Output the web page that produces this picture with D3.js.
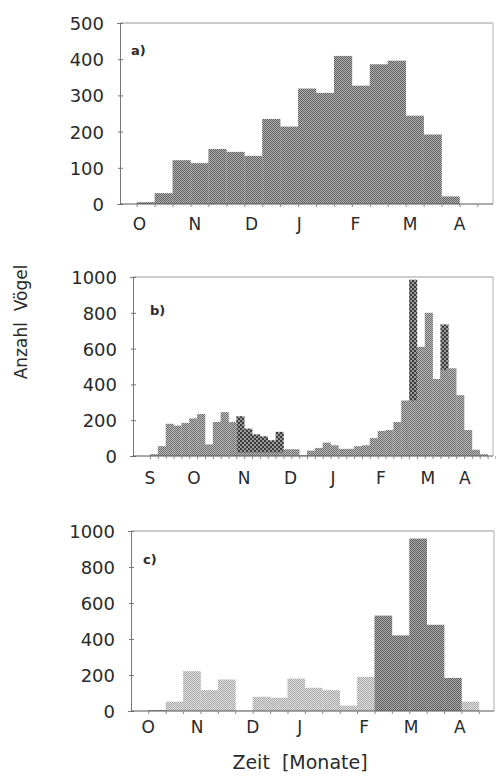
<!DOCTYPE html>
<html>
<head>
<meta charset="utf-8">
<script src="https://cdn.jsdelivr.net/npm/d3@7"></script>
<style>
html,body{margin:0;padding:0;background:#fff;}
svg{display:block;}
text{font-family:"DejaVu Sans",sans-serif;fill:#2a2a2a;white-space:pre;}
</style>
</head>
<body>
<svg id="chart" width="496" height="778"></svg>
<script>
// ---------- data ----------
// Panel a: dekads (10-day bins) from early October to mid April
const aMonths = ["O","N","D","J","F","M","A"];
const aMonthPos = [0.15, 3.25, 6.4, 9.07, 12.2, 15.25, 18.0];
const aValues = [5,30,121,113,152,144,133,235,214,319,307,409,327,386,396,244,192,21];

// Panel b: pentads (5-day bins) from September to April
const bMonths = ["S","O","N","D","J","F","M","A"];
const bMonthPos = [0, 5.6, 12.0, 17.9, 23.3, 29.4, 35.4, 40.1];
const bMain = [10,55,180,170,185,210,235,65,190,245,190,20,20,20,20,20,20,38,38,5,30,45,75,60,40,40,55,60,100,140,145,190,310,310,610,800,430,480,490,340,145,35,10];
const bDark = [0,0,0,0,0,0,0,0,0,0,0,222,153,121,110,88,135,0,0,0,0,0,0,0,0,0,0,0,0,0,0,0,0,985,0,0,0,735,0,0,0,0,0];

// Panel c: dekads from October to mid April, two series
const cMonths = ["O","N","D","J","F","M","A"];
const cMonthPos = [0, 2.8, 6.0, 8.7, 12.4, 15.1, 17.9];
const cLight = [0,52,221,116,175,3,79,74,180,129,116,30,190,0,0,0,0,0,52];
const cDark  = [5,0,0,0,0,0,0,0,0,0,0,0,0,530,420,958,479,184,0];

const aTicks = [0,100,200,300,400,500];
const bcTicks = [0,200,400,600,800,1000];

// ---------- drawing ----------
const svg = d3.select("#chart");
const defs = svg.append("defs");

function checker(id, bg, fg, size) {
  const p = defs.append("pattern").attr("id", id).attr("patternUnits","userSpaceOnUse")
    .attr("width", size*2).attr("height", size*2);
  p.append("rect").attr("width", size*2).attr("height", size*2).attr("fill", bg);
  p.append("rect").attr("width", size).attr("height", size).attr("fill", fg);
  p.append("rect").attr("x", size).attr("y", size).attr("width", size).attr("height", size).attr("fill", fg);
}
checker("patA", "#b4b4b4", "#5e5e5e", 1);
checker("patBmid", "#bcbcbc", "#6c6c6c", 1);
checker("patBdark", "#9a9a9a", "#3a3a3a", 2);
checker("patClight", "#e2e2e2", "#a6a6a6", 1);
checker("patCdark", "#b0b0b0", "#5a5a5a", 1);

const panels = [
  {frame:{l:120,r:493,t:23,b:204}, xDom:[-0.931,19.87], yMax:500, ticks:aTicks,
   months:aMonths, monthPos:aMonthPos, nBins:19, label:"a)", labelPos:[131,55], monthY:230,
   series:[{vals:aValues, fill:"url(#patA)"}]},
  {frame:{l:133,r:493,t:277,b:456}, xDom:[-2.166,43.69], yMax:1000, ticks:bcTicks,
   months:bMonths, monthPos:bMonthPos, nBins:44, label:"b)", labelPos:[150,315], monthY:484,
   series:[{vals:bDark, fill:"url(#patBdark)"},{vals:bMain, fill:"url(#patBmid)"}]},
  {frame:{l:131,r:494,t:531,b:711}, xDom:[-0.994,19.87], yMax:1000, ticks:bcTicks,
   months:cMonths, monthPos:cMonthPos, nBins:20, label:"c)", labelPos:[143,564], monthY:733,
   series:[{vals:cLight, fill:"url(#patClight)"},{vals:cDark, fill:"url(#patCdark)"}]}
];

panels.forEach(P => {
  const f = P.frame;
  const x = d3.scaleLinear().domain(P.xDom).range([f.l, f.r]);
  const y = d3.scaleLinear().domain([0, P.yMax]).range([f.b, f.t]);
  const g = svg.append("g");

  // bars
  P.series.forEach(s => {
    g.append("g").selectAll("rect").data(s.vals.map((v,i)=>({v,i})).filter(d=>d.v>0))
      .join("rect")
      .attr("x", d => x(d.i))
      .attr("width", d => x(d.i+1) - x(d.i) + 0.3)
      .attr("y", d => y(d.v))
      .attr("height", d => y(0) - y(d.v))
      .attr("fill", s.fill);
  });

  // frame (top/right light)
  g.append("line").attr("x1",f.l).attr("x2",f.r).attr("y1",f.t).attr("y2",f.t).attr("stroke","#9a9a9a").attr("stroke-width",1);
  g.append("line").attr("x1",f.r).attr("x2",f.r).attr("y1",f.t).attr("y2",f.b).attr("stroke","#b0b0b0").attr("stroke-width",1);

  // y axis
  const ya = d3.axisLeft(y).tickValues(P.ticks).tickSize(3).tickPadding(13).tickFormat(d3.format("d"));
  const yg = g.append("g").attr("transform", `translate(${f.l},0)`).call(ya);
  yg.select(".domain").attr("stroke","#777");
  yg.selectAll(".tick line").attr("stroke","#777").attr("x2",3).attr("x1",-2);
  yg.selectAll("text").attr("font-size",18).attr("font-family","DejaVu Sans").attr("fill","#2a2a2a").attr("dy","0.36em");

  // x axis: baseline with bin ticks
  const binTicks = d3.range(0, P.nBins+1);
  const xa = d3.axisBottom(x).tickValues(binTicks).tickSize(3).tickFormat("");
  const xg = g.append("g").attr("transform", `translate(0,${f.b})`).call(xa);
  xg.select(".domain").attr("stroke","#555").attr("d", `M${f.l},0H${f.r}`);
  xg.selectAll(".tick line").attr("stroke","#888");

  // month labels
  g.append("g").selectAll("text").data(P.months).join("text")
    .attr("x", (d,i) => x(P.monthPos[i]))
    .attr("y", P.monthY)
    .attr("text-anchor","middle")
    .attr("font-size",17)
    .text(d => d);

  // panel label
  g.append("text").attr("x",P.labelPos[0]).attr("y",P.labelPos[1])
    .attr("font-size",13).attr("font-weight","bold").text(P.label);
});

// axis titles
svg.append("text").attr("transform","translate(27,322) rotate(-90)")
  .attr("text-anchor","middle").attr("font-size",17).text("Anzahl  Vögel");
svg.append("text").attr("x",300).attr("y",769)
  .attr("text-anchor","middle").attr("font-size",19).text("Zeit  [Monate]");
</script>
</body>
</html>
